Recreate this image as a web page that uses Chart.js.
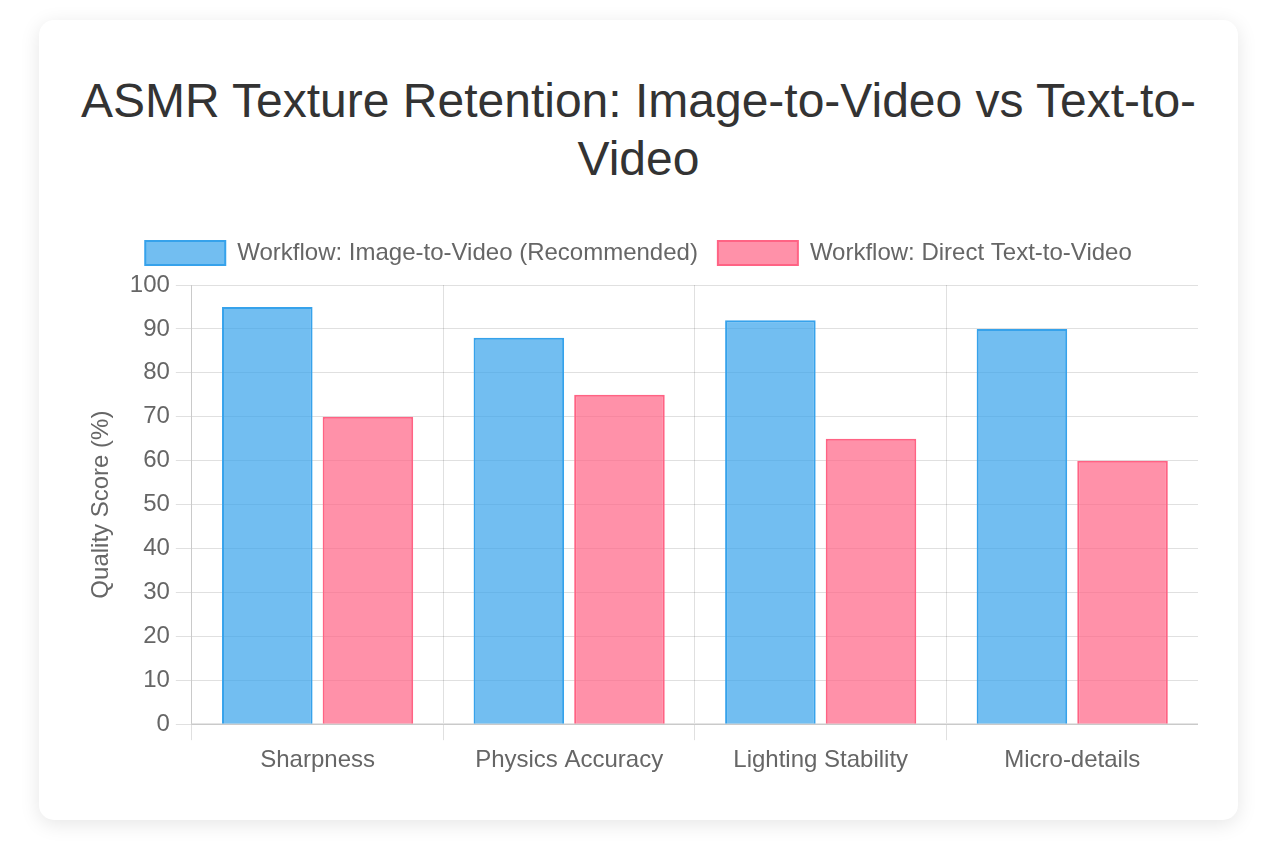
<!DOCTYPE html>
<html>
<head>
<meta charset="utf-8">
<script src="https://cdn.jsdelivr.net/npm/chart.js@4"></script>
<style>
  body { margin: 0; background: #fff; font-family: "Liberation Sans", Arial, Helvetica, sans-serif; }
  .card {
    position: absolute; left: 39px; top: 20px;
    width: 1199px; height: 800px; box-sizing: border-box;
    padding: 40px; background: #fff; border-radius: 15px;
    box-shadow: 0 4px 20px rgba(0,0,0,0.1);
  }
  h1 { margin: 12px 0 34px; font-size: 48px; line-height: 1.2; font-weight: normal; color: #333; text-align: center; }
  .chart-box { position: relative; width: 1119px; height: 560px; }
</style>
</head>
<body>
<div class="card">
  <h1>ASMR Texture Retention: Image-to-Video vs Text-to-Video</h1>
  <div class="chart-box"><canvas id="textureChart"></canvas></div>
</div>
<script>
const categorias = ['Sharpness', 'Physics Accuracy', 'Lighting Stability', 'Micro-details'];
const imagenAVideo = [95, 88, 92, 90];
const textoAVideo = [70, 75, 65, 60];
const etiquetas = ['Workflow: Image-to-Video (Recommended)', 'Workflow: Direct Text-to-Video'];

Chart.defaults.font.family = '"Liberation Sans", Arial, Helvetica, sans-serif';
Chart.defaults.font.size = 24;
Chart.defaults.color = '#666';

// Espacio extra debajo de la leyenda
const margenLeyenda = {
    id: 'margenLeyenda',
    beforeInit(chart) {
        const fitOriginal = chart.legend.fit;
        chart.legend.fit = function() {
            fitOriginal.bind(chart.legend)();
            this.height += 10;
        };
    }
};

const ctx = document.getElementById('textureChart').getContext('2d');
new Chart(ctx, {
    type: 'bar',
    data: {
        labels: categorias,
        datasets: [{
            label: etiquetas[0],
            data: imagenAVideo,
            backgroundColor: 'rgba(54, 162, 235, 0.7)',
            borderColor: 'rgba(54, 162, 235, 1)',
            borderWidth: 2
        }, {
            label: etiquetas[1],
            data: textoAVideo,
            backgroundColor: 'rgba(255, 99, 132, 0.7)',
            borderColor: 'rgba(255, 99, 132, 1)',
            borderWidth: 2
        }]
    },
    options: {
        responsive: true,
        maintainAspectRatio: false,
        animation: false,
        plugins: {
            legend: {
                labels: { boxWidth: 80, boxHeight: 24, padding: 20 }
            }
        },
        scales: {
            x: {
                grid: { tickLength: 16, color: 'rgba(0, 0, 0, 0.12)' },
                border: { width: 2 },
                ticks: { padding: 6 }
            },
            y: {
                beginAtZero: true,
                max: 100,
                grid: { tickLength: 16, color: 'rgba(0, 0, 0, 0.12)' },
                ticks: { padding: 6, stepSize: 10 },
                title: { display: true, text: 'Quality Score (%)', padding: { top: 8, bottom: 8 } }
            }
        }
    },
    plugins: [margenLeyenda]
});
</script>
</body>
</html>
